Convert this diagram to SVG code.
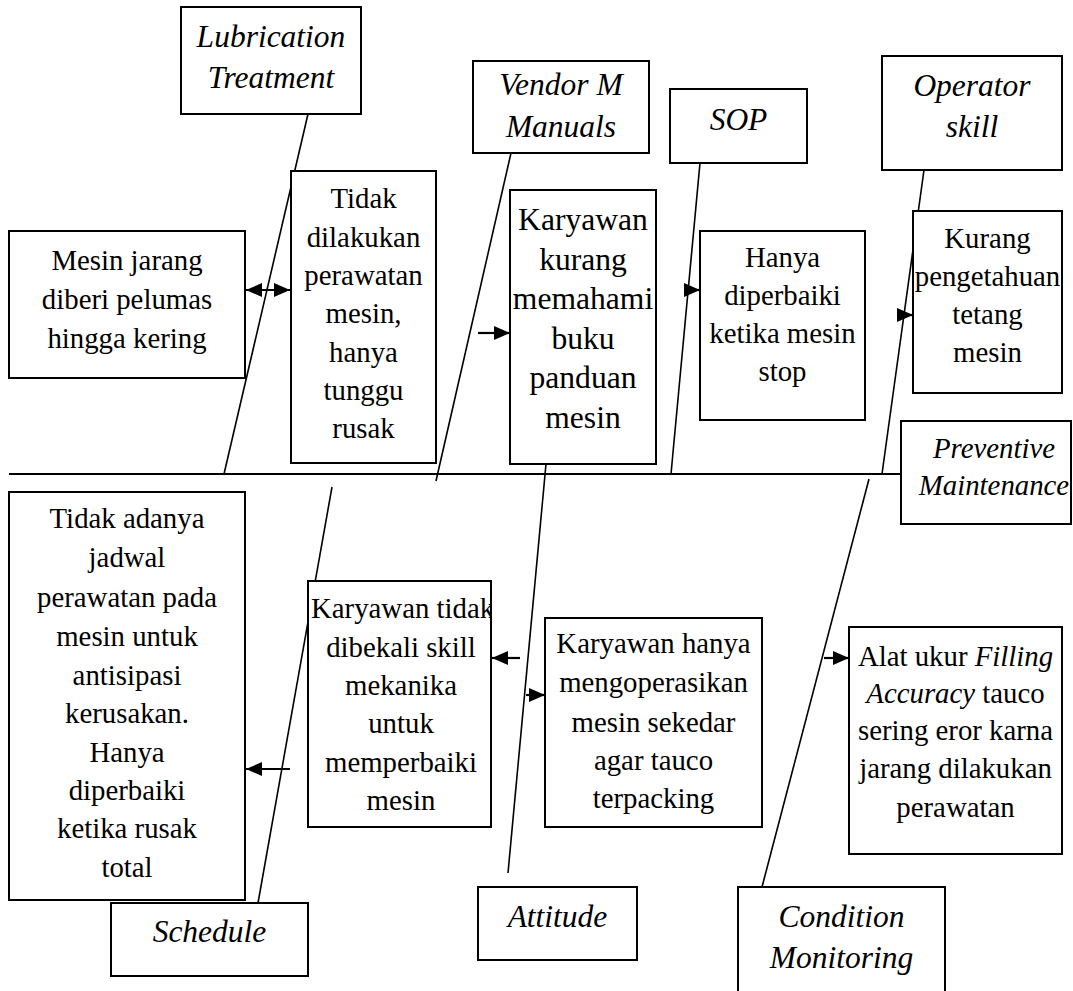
<svg xmlns="http://www.w3.org/2000/svg" width="1073" height="991" viewBox="0 0 1073 991">
<style>
.box{fill:#fff;stroke:#000;stroke-width:2}
.t{font-family:"Liberation Serif","Times New Roman",serif;font-size:28.8px;fill:#000;text-anchor:middle}
.lbl{font-family:"Liberation Serif","Times New Roman",serif;font-size:31.5px;font-style:italic;fill:#000;text-anchor:middle}
.big{font-size:31.6px}
.i{font-style:italic}
.ln{stroke:#000;stroke-width:1.6;fill:none}
.spine{stroke:#000;stroke-width:2;fill:none}
.arr{stroke:#000;stroke-width:2.2;fill:none;marker-end:url(#ah)}
.arr2{stroke:#000;stroke-width:2.2;fill:none;marker-end:url(#ah);marker-start:url(#ah)}
</style>
<defs>
<marker id="ah" viewBox="0 0 16 14" refX="16" refY="7" markerWidth="16" markerHeight="14" markerUnits="userSpaceOnUse" orient="auto-start-reverse">
<path d="M0,0 L16,7 L0,14 z" fill="#000"/>
</marker>
<clipPath id="clipKT"><rect x="308" y="581" width="183" height="246"/></clipPath>
</defs>
<rect width="1073" height="991" fill="#fff"/>

<g id="connectors">
<line class="spine" x1="9" y1="474" x2="901" y2="474"/>
<line class="ln" x1="308" y1="114" x2="224" y2="474"/>
<line class="ln" x1="511" y1="153" x2="436" y2="481"/>
<line class="ln" x1="700" y1="163" x2="671" y2="474"/>
<line class="ln" x1="924" y1="170" x2="882" y2="474"/>
<line class="ln" x1="332" y1="487" x2="258" y2="903"/>
<line class="ln" x1="546" y1="464" x2="508" y2="873"/>
<line class="ln" x1="869" y1="479" x2="762" y2="887"/>
<line class="arr2" x1="246" y1="290" x2="290" y2="290"/>
<line class="arr" x1="478" y1="333" x2="510" y2="333"/>
<line class="arr" x1="686" y1="290" x2="700" y2="290"/>
<line class="arr" x1="902" y1="315" x2="913" y2="315"/>
<line class="arr" x1="290" y1="769" x2="246" y2="769"/>
<line class="arr" x1="520" y1="658" x2="492" y2="658"/>
<line class="arr" x1="526" y1="695" x2="545" y2="695"/>
<line class="arr" x1="824" y1="658" x2="849" y2="658"/>
</g>

<g id="lubrication-treatment">
<rect class="box" x="181" y="7" width="180" height="107"/>
<text class="lbl"><tspan x="271" y="47">Lubrication</tspan><tspan x="271" y="88">Treatment</tspan></text>
</g>

<g id="vendor-manuals">
<rect class="box" x="473" y="61" width="176" height="92"/>
<text class="lbl"><tspan x="561" y="95">Vendor M</tspan><tspan x="561" y="137">Manuals</tspan></text>
</g>

<g id="sop">
<rect class="box" x="670" y="89" width="137" height="74"/>
<text class="lbl" x="738.5" y="130">SOP</text>
</g>

<g id="operator-skill">
<rect class="box" x="882" y="56" width="180" height="114"/>
<text class="lbl"><tspan x="972" y="96">Operator</tspan><tspan x="972" y="137">skill</tspan></text>
</g>

<g id="mesin-jarang">
<rect class="box" x="9" y="231" width="236" height="147"/>
<text class="t"><tspan x="127" y="270">Mesin jarang</tspan><tspan x="127" y="309">diberi pelumas</tspan><tspan x="127" y="348">hingga kering</tspan></text>
</g>

<g id="tidak-dilakukan">
<rect class="box" x="291" y="171" width="145" height="292"/>
<text class="t"><tspan x="363.5" y="208">Tidak</tspan><tspan x="363.5" y="247">dilakukan</tspan><tspan x="363.5" y="285">perawatan</tspan><tspan x="363.5" y="323">mesin,</tspan><tspan x="363.5" y="362">hanya</tspan><tspan x="363.5" y="400">tunggu</tspan><tspan x="363.5" y="438">rusak</tspan></text>
</g>

<g id="karyawan-kurang">
<rect class="box" x="510" y="190" width="146" height="274"/>
<text class="t big"><tspan x="583" y="230">Karyawan</tspan><tspan x="583" y="270">kurang</tspan><tspan x="583" y="309">memahami</tspan><tspan x="583" y="349">buku</tspan><tspan x="583" y="388">panduan</tspan><tspan x="583" y="428">mesin</tspan></text>
</g>

<g id="hanya-diperbaiki">
<rect class="box" x="700" y="231" width="165" height="189"/>
<text class="t"><tspan x="782.5" y="267">Hanya</tspan><tspan x="782.5" y="305">diperbaiki</tspan><tspan x="782.5" y="343">ketika mesin</tspan><tspan x="782.5" y="381">stop</tspan></text>
</g>

<g id="kurang-pengetahuan">
<rect class="box" x="913" y="211" width="149" height="182"/>
<text class="t"><tspan x="987.5" y="248">Kurang</tspan><tspan x="987.5" y="286">pengetahuan</tspan><tspan x="987.5" y="324">tetang</tspan><tspan x="987.5" y="362">mesin</tspan></text>
</g>

<g id="preventive-maintenance">
<rect class="box" x="901" y="421" width="170" height="103"/>
<text class="t i"><tspan x="994" y="458">Preventive</tspan><tspan x="994" y="495">Maintenance</tspan></text>
</g>

<g id="tidak-adanya-jadwal">
<rect class="box" x="9" y="492" width="236" height="408"/>
<text class="t"><tspan x="127" y="528">Tidak adanya</tspan><tspan x="127" y="567">jadwal</tspan><tspan x="127" y="607">perawatan pada</tspan><tspan x="127" y="646">mesin untuk</tspan><tspan x="127" y="685">antisipasi</tspan><tspan x="127" y="723">kerusakan.</tspan><tspan x="127" y="762">Hanya</tspan><tspan x="127" y="800">diperbaiki</tspan><tspan x="127" y="838">ketika rusak</tspan><tspan x="127" y="877">total</tspan></text>
</g>

<g id="karyawan-tidak-dibekali">
<rect class="box" x="308" y="581" width="183" height="246"/>
<text class="t" clip-path="url(#clipKT)" x="311" y="618" style="text-anchor:start">Karyawan tidak</text>
<text class="t"><tspan x="401" y="657">dibekali skill</tspan><tspan x="401" y="695">mekanika</tspan><tspan x="401" y="733">untuk</tspan><tspan x="401" y="772">memperbaiki</tspan><tspan x="401" y="810">mesin</tspan></text>
</g>

<g id="karyawan-hanya">
<rect class="box" x="545" y="618" width="217" height="209"/>
<text class="t"><tspan x="653.5" y="653">Karyawan hanya</tspan><tspan x="653.5" y="692">mengoperasikan</tspan><tspan x="653.5" y="732">mesin sekedar</tspan><tspan x="653.5" y="770">agar tauco</tspan><tspan x="653.5" y="808">terpacking</tspan></text>
</g>

<g id="alat-ukur">
<rect class="box" x="849" y="627" width="213" height="227"/>
<text class="t"><tspan x="955.5" y="666">Alat ukur <tspan class="i">Filling</tspan></tspan><tspan x="955.5" y="703"><tspan class="i">Accuracy</tspan> tauco</tspan><tspan x="955.5" y="740">sering eror karna</tspan><tspan x="955.5" y="778">jarang dilakukan</tspan><tspan x="955.5" y="817">perawatan</tspan></text>
</g>

<g id="schedule">
<rect class="box" x="111" y="903" width="197" height="73"/>
<text class="lbl" x="209.5" y="942">Schedule</text>
</g>

<g id="attitude">
<rect class="box" x="478" y="887" width="159" height="73"/>
<text class="lbl" x="557.5" y="927">Attitude</text>
</g>

<g id="condition-monitoring">
<rect class="box" x="738" y="887" width="207" height="110"/>
<text class="lbl"><tspan x="841.5" y="927">Condition</tspan><tspan x="841.5" y="968">Monitoring</tspan></text>
</g>
</svg>
